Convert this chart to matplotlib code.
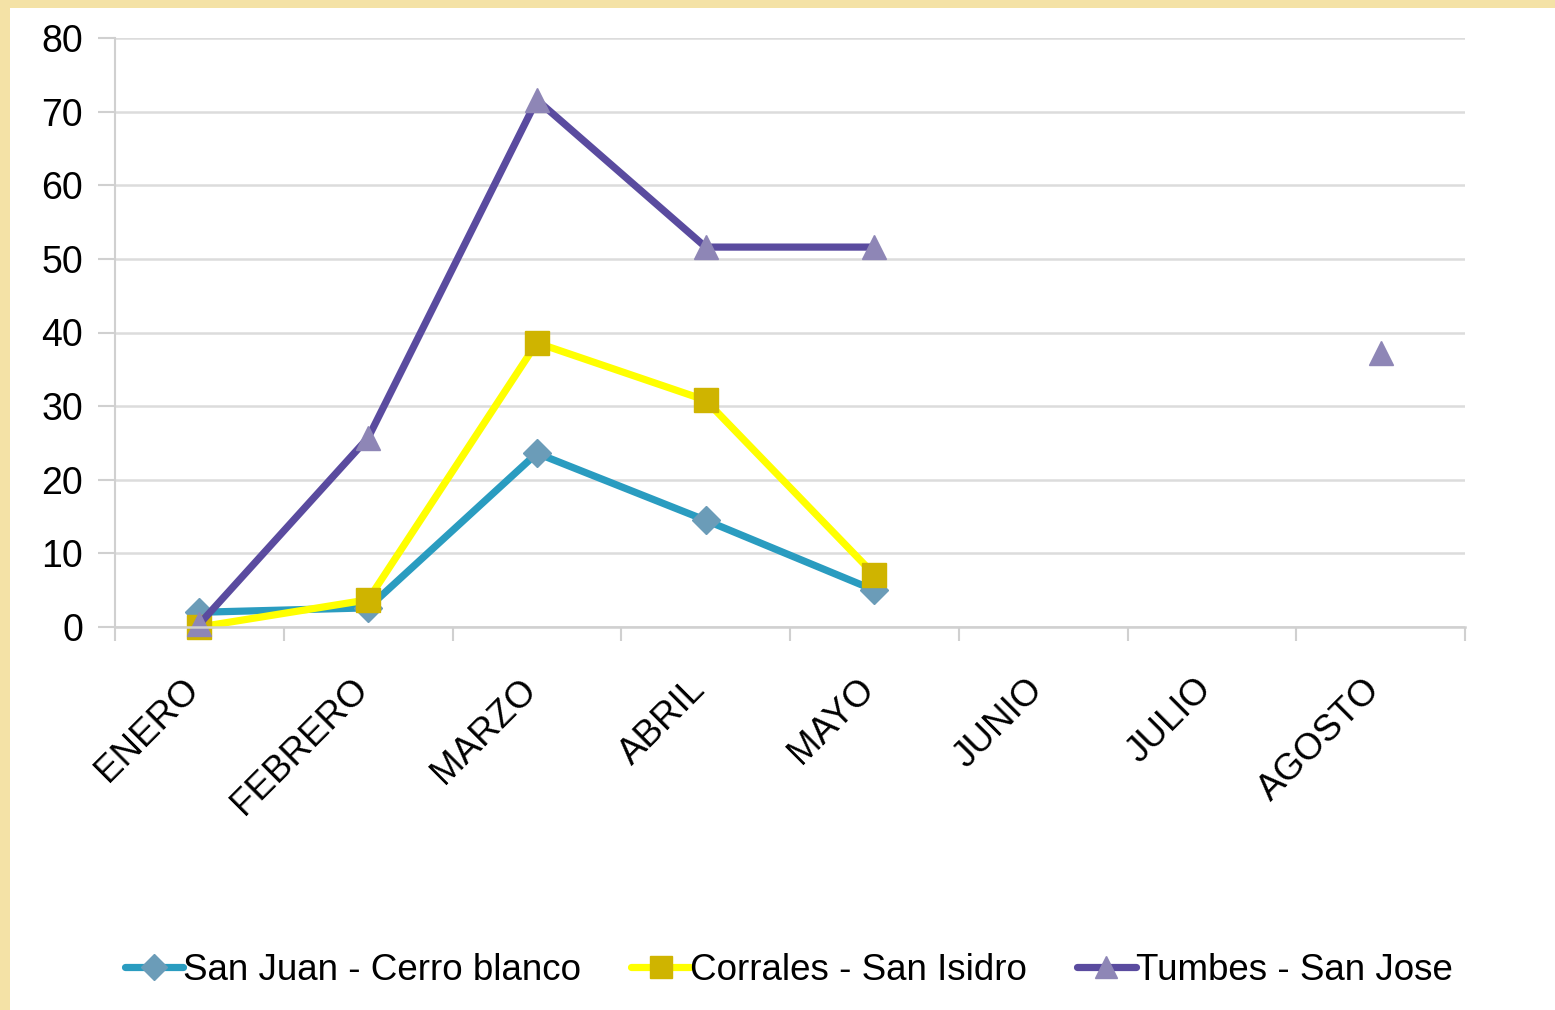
import numpy as np
import matplotlib.pyplot as plt
from matplotlib.patches import Rectangle
from matplotlib.transforms import ScaledTranslation

plt.rcParams['font.family'] = ['Liberation Sans', 'DejaVu Sans']

# datos por mes
meses = ["ENERO", "FEBRERO", "MARZO", "ABRIL", "MAYO", "JUNIO", "JULIO", "AGOSTO"]
san_juan = [2.0, 2.6, 23.6, 14.5, 5.0, np.nan, np.nan, np.nan]
corrales = [0.0, 3.7, 38.6, 30.8, 7.1, np.nan, np.nan, np.nan]
tumbes = [0.4, 25.7, 71.6, 51.6, 51.6, np.nan, np.nan, 37.2]
y_ticks = [0, 10, 20, 30, 40, 50, 60, 70, 80]

fig = plt.figure(figsize=(15.55, 10.10), dpi=100, facecolor="#f4e2a6")
# fondo blanco dentro del borde amarillo
fig.patches.append(Rectangle((10 / 1555, 0), 1 - 10 / 1555, 1 - 8 / 1010,
                             transform=fig.transFigure, facecolor="white",
                             edgecolor="none", zorder=-5))

ax = fig.add_axes([115 / 1555, 1 - 627 / 1010, 1350 / 1555, 589 / 1010])
ax.set_zorder(2)
ax.set_facecolor("none")
x = np.arange(len(meses))

series = [
    ("San Juan - Cerro blanco", san_juan, "#2a9cc0", "D", "#6b9cb8", 14),
    ("Corrales - San Isidro", corrales, "#ffff00", "s", "#cfb400", 17),
    ("Tumbes - San Jose", tumbes, "#5a4b9f", "^", "#8e86b6", 17),
]
for name, vals, color, mk, mcolor, ms in series:
    ax.plot(x, vals, color=color, linewidth=5.2, marker=mk, markersize=ms,
            markerfacecolor=mcolor, markeredgecolor=mcolor, label=name,
            solid_joinstyle="round", solid_capstyle="round", clip_on=False)

ax.set_xlim(-0.5, len(meses) - 0.5)
ax.set_ylim(0, 80)
ax.set_yticks(y_ticks)
ax.set_yticklabels([str(v) for v in y_ticks], fontsize=27)
ax.tick_params(axis="y", length=12, width=1.5, color="#d0d0d0", pad=11)

ax.set_xticks(x)
ax.tick_params(axis="x", length=0, pad=38)
ax.set_xticks(np.arange(-0.5, len(meses)), minor=True)
ax.tick_params(axis="x", which="minor", length=10, width=1.5, color="#d0d0d0")
ax.set_xticklabels(meses, fontsize=26.5, rotation=45, ha="right", va="top",
                   rotation_mode="anchor")

ax.grid(axis="y", color="#dcdcdc", linewidth=1.8)
ax.set_axisbelow(True)
for s in ["top", "right"]:
    ax.spines[s].set_visible(False)
ax.spines["left"].set_color("#d0d0d0")
ax.spines["left"].set_linewidth(1.5)
ax.spines["bottom"].set_color("#d0d0d0")
ax.spines["bottom"].set_linewidth(1.8)

fig.legend(loc="center", bbox_to_anchor=(0.5 + 11 / 1555, 1 - 970 / 1010), ncol=3,
           frameon=False, fontsize=26.5, handlelength=1.6, handletextpad=0.0,
           columnspacing=1.35, markerscale=0.95)

# mover etiquetas rotadas para que terminen bajo el centro de cada mes
shift = ScaledTranslation(-0.18, 0.08, fig.dpi_scale_trans)
for lbl in ax.get_xticklabels():
    lbl.set_transform(lbl.get_transform() + shift)

fig.savefig("out.png", dpi=100, facecolor=fig.get_facecolor())
